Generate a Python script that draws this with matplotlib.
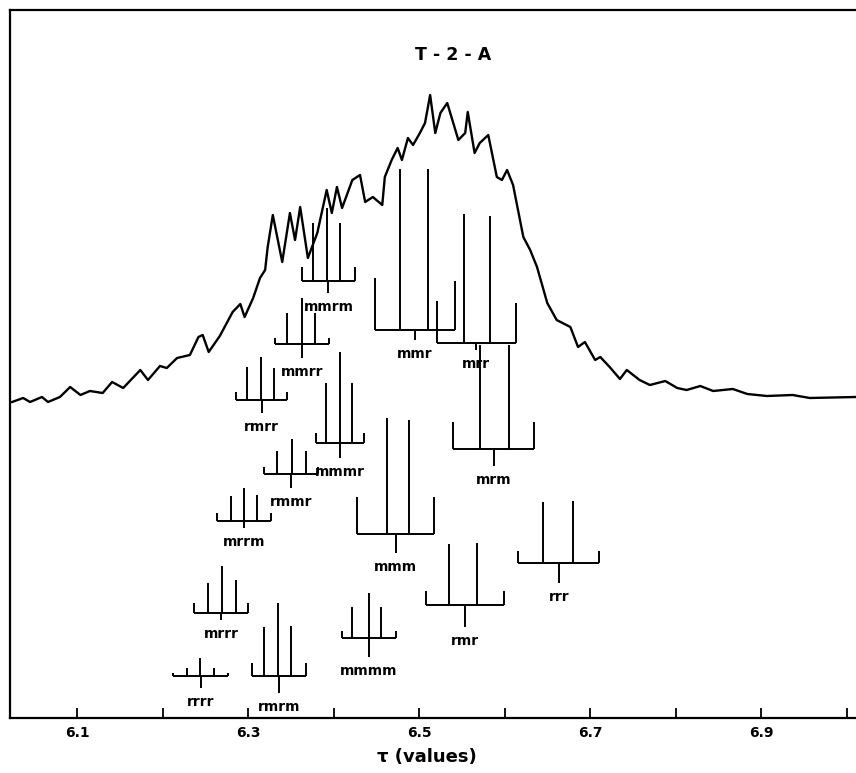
import matplotlib
matplotlib.use("Agg")
import matplotlib.pyplot as plt
import numpy as np

# ---------------- data ----------------
# traced spectrum (tau, relative intensity)
spec_tau = [6.024, 6.037, 6.045, 6.059, 6.066, 6.080, 6.092, 6.104, 6.115, 6.130,
            6.141, 6.154, 6.174, 6.183, 6.197, 6.205, 6.217, 6.232, 6.242, 6.247,
            6.254, 6.267, 6.282, 6.291, 6.296, 6.306, 6.314, 6.320, 6.323, 6.329,
            6.340, 6.349, 6.355, 6.361, 6.370, 6.381, 6.392, 6.398, 6.404, 6.410,
            6.422, 6.431, 6.437, 6.446, 6.457, 6.460, 6.468, 6.475, 6.480, 6.487,
            6.493, 6.501, 6.507, 6.513, 6.519, 6.525, 6.533, 6.539, 6.546, 6.554,
            6.557, 6.565, 6.571, 6.581, 6.591, 6.597, 6.603, 6.610, 6.622, 6.630,
            6.638, 6.650, 6.661, 6.677, 6.686, 6.694, 6.706, 6.712, 6.723, 6.735,
            6.743, 6.758, 6.770, 6.788, 6.802, 6.813, 6.829, 6.844, 6.867, 6.884,
            6.907, 6.937, 6.957, 7.011]
spec_int = [316, 320, 316, 321, 316, 321, 331, 323, 327, 325,
            336, 330, 348, 338, 352, 350, 360, 363, 381, 383,
            366, 382, 406, 414, 401, 420, 440, 448, 471, 503,
            456, 505, 478, 511, 460, 485, 528, 505, 531, 510,
            538, 543, 516, 521, 513, 541, 558, 570, 558, 580,
            573, 585, 595, 623, 585, 605, 615, 598, 578, 585,
            606, 565, 575, 583, 541, 538, 548, 533, 481, 468,
            451, 415, 398, 391, 371, 376, 358, 361, 351, 339,
            348, 338, 333, 337, 330, 328, 332, 327, 329, 324,
            322, 323, 320, 321]

# stick diagrams: label, line positions (tau), line-top intensities,
# baseline intensity, stem-bottom intensity
diag_labels = ["mmrm", "mmrr", "rmrr", "mmmr", "rmmr", "mrrm", "mrrr", "rrrr",
               "rmrm", "mmmm", "mmm", "mmr", "mrr", "mrm", "rmr", "rrr"]
diag_pos = [
    [6.363, 6.376, 6.392, 6.408, 6.425],
    [6.332, 6.346, 6.363, 6.378, 6.395],
    [6.286, 6.299, 6.315, 6.330, 6.346],
    [6.380, 6.391, 6.408, 6.422, 6.436],
    [6.319, 6.334, 6.351, 6.368, 6.382],
    [6.264, 6.280, 6.295, 6.311, 6.327],
    [6.237, 6.253, 6.270, 6.286, 6.300],
    [6.212, 6.229, 6.244, 6.260, 6.277],
    [6.305, 6.319, 6.335, 6.350, 6.368],
    [6.410, 6.422, 6.442, 6.456, 6.473],
    [6.427, 6.463, 6.488, 6.518],
    [6.449, 6.478, 6.511, 6.542],
    [6.521, 6.553, 6.583, 6.613],
    [6.540, 6.571, 6.605, 6.635],
    [6.508, 6.535, 6.568, 6.599],
    [6.616, 6.645, 6.680, 6.711],
]
diag_tops = [
    [451, 495, 510, 495, 451],
    [380, 405, 420, 405, 380],
    [326, 351, 361, 350, 326],
    [285, 335, 366, 335, 285],
    [251, 267, 279, 267, 251],
    [205, 222, 230, 223, 205],
    [115, 135, 152, 138, 115],
    [45, 50, 60, 50, 45],
    [55, 91, 115, 92, 55],
    [87, 111, 125, 111, 87],
    [221, 300, 298, 221],
    [440, 549, 549, 437],
    [417, 504, 502, 415],
    [296, 373, 373, 296],
    [127, 174, 175, 127],
    [167, 216, 217, 167],
]
diag_base = [437, 374, 318, 275, 244, 197, 105, 42, 42, 80, 184, 388, 375, 269, 113, 155]
diag_stem = [425, 360, 305, 260, 230, 190, 98, 30, 25, 61, 165, 378, 368, 252, 91, 135]

tick_vals = [6.1, 6.2, 6.3, 6.4, 6.5, 6.6, 6.7, 6.8, 6.9, 7.0]
tick_labels = ["6.1", "", "6.3", "", "6.5", "", "6.7", "", "6.9", ""]

title_text = "T - 2 - A"
xlabel_text = "τ (values)"

# ---------------- figure ----------------
fig = plt.figure(figsize=(8.56, 7.73), dpi=100)
ax = fig.add_axes([10 / 856, 55 / 773, 846 / 856, 708 / 773])

ax.plot(spec_tau, spec_int, color="black", lw=1.7, solid_joinstyle="round")

lw_s = 1.4
for lab, pos, tops, base, stem in zip(diag_labels, diag_pos, diag_tops, diag_base, diag_stem):
    ax.hlines(base, pos[0], pos[-1], color="black", lw=lw_s)
    ax.vlines(pos, base, tops, color="black", lw=lw_s)
    c = (pos[0] + pos[-1]) / 2
    ax.vlines(c, stem, base, color="black", lw=lw_s)
    ax.annotate(lab, xy=(c, stem), xytext=(0, -13), textcoords="offset points",
                ha="center", va="baseline", fontsize=10, fontweight="bold",
                family="DejaVu Sans")

ax.text(6.540, 663, title_text, ha="center", va="center", fontsize=12.5,
        fontweight="bold")

ax.set_xlim(6.0216, 7.0111)
ax.set_ylim(0, 708)
ax.set_xticks(tick_vals)
ax.set_xticklabels(tick_labels, fontsize=10, fontweight="bold")
ax.tick_params(axis="x", direction="in", length=7, width=1.3, pad=6)
ax.set_yticks([])
ax.spines["right"].set_visible(False)
for s in ["left", "top", "bottom"]:
    ax.spines[s].set_linewidth(1.6)

ax.set_xlabel(xlabel_text, fontsize=13, fontweight="bold")
ax.xaxis.set_label_coords(0.493, -0.043)

fig.savefig("out.png", dpi=100)
